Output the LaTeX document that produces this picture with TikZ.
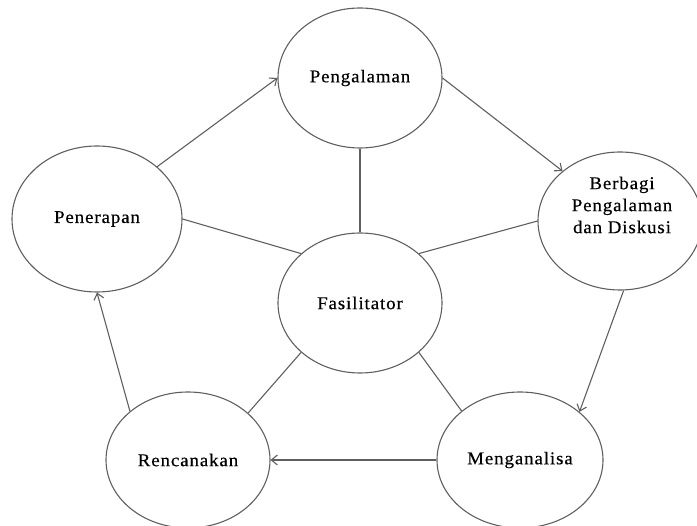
\documentclass[tikz,border=0pt]{standalone}
\usepackage{fontspec}
\setmainfont{Liberation Serif}[FakeStretch=1.05,LetterSpace=5,FakeBold=0.4]
\usetikzlibrary{shapes.geometric,arrows.meta}
\definecolor{lc}{RGB}{95,95,95}
\tikzset{
  bub/.style={ellipse, draw=lc, line width=1.1pt, inner sep=0pt,
    minimum width=164pt, minimum height=140pt,
    font=\fontsize{18}{22}\selectfont},
  lab/.style={align=center, inner sep=0pt, font=\fontsize{18}{22}\selectfont},
  link/.style={draw=lc, line width=1.1pt},
  arr/.style={link, -{Straight Barb[length=6pt,width=10pt,line width=1.1pt]}}
}
\begin{document}
\begin{tikzpicture}[x=1pt,y=-1pt]
\useasboundingbox (0,0) rectangle (697,526);
\node[bub] (pg) at (360,78) {Pengalaman};
\node[bub, minimum width=164pt, minimum height=138pt] (bd) at (620,221) {};
\node[lab] (bdt) at (622,205) {Berbagi\\Pengalaman\\dan Diskusi};
\node[bub, minimum width=170pt, minimum height=146pt] (pe) at (97,219) {Penerapan};
\node[bub] (f) at (360,303) {Fasilitator};
\node[bub, minimum width=164pt, minimum height=136pt] (rc) at (188,460) {Rencanakan};
\node[bub, minimum width=166pt, minimum height=136pt] (mg) at (520,460) {Menganalisa};
% spokes
\draw[link] (pg.south) -- (f.north);
\draw[link] (pe.east) -- (f.140);
\draw[link] (bd.west) -- (f.40);
\draw[link] (rc.38) -- (f.220);
\draw[link] (mg.140) -- (f.320);
% cycle
\draw[arr] (pe.41) -- (pg.west);
\draw[arr] (pg.east) -- (bd.139);
\draw[arr] (bd.273) -- (mg.39);
\draw[arr] (mg.west) -- (rc.east);
\draw[arr] (rc.140) -- (pe.south);
\end{tikzpicture}
\end{document}
